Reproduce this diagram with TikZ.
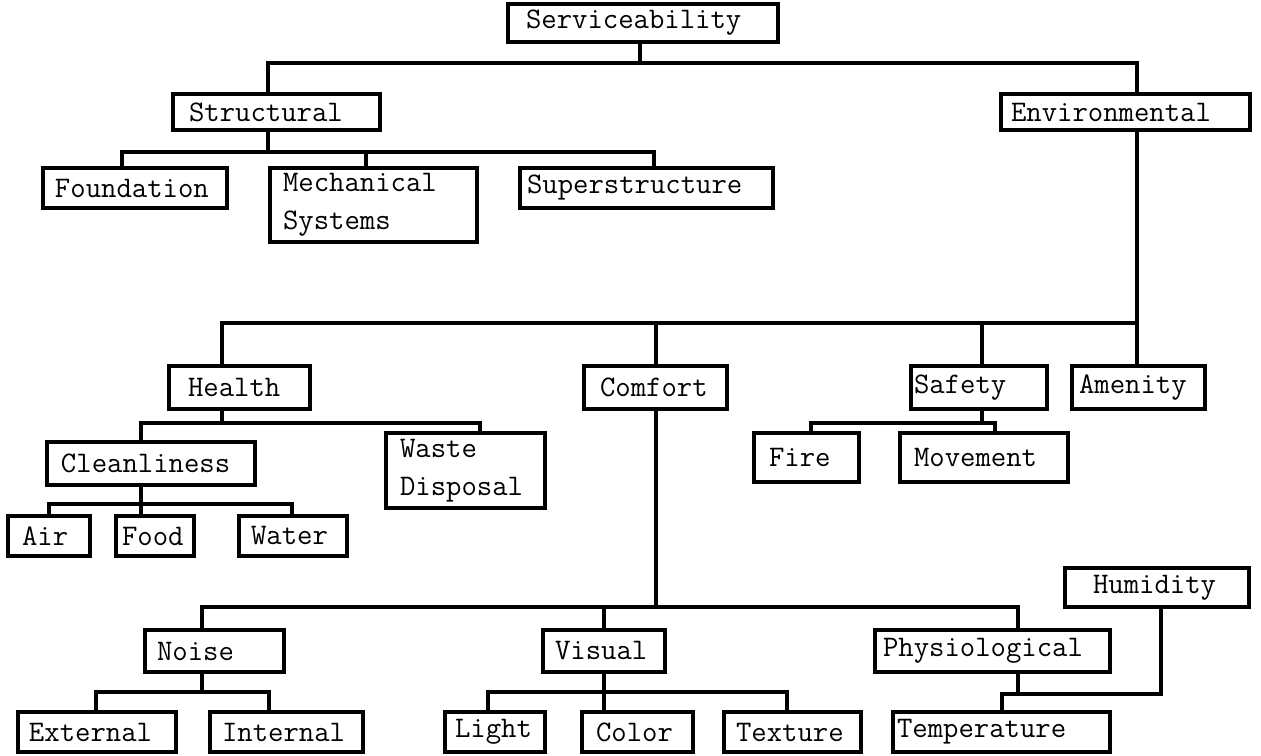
\documentclass[tikz,border=0pt]{standalone}
\usepackage{tikz}

\newcommand{\boxfont}{\fontsize{17}{21.5}\selectfont\ttfamily}

\tikzset{
  tbox/.style={draw, line width=1.8pt, font=\boxfont, align=left, inner ysep=0pt},
  % width, left pad, height (in px of the original)
  sz/.code n args={3}{%
    \pgfmathsetmacro\bxw{#1*0.02}%
    \pgfmathsetmacro\bxt{(#1-2*#2)*0.02}%
    \pgfmathsetmacro\bxp{#2*0.02}%
    \pgfmathsetmacro\bxh{#3*0.02}%
    \edef\bxset{\noexpand\tikzset{minimum width=\bxw cm, text width=\bxt cm,
      inner xsep=\bxp cm, minimum height=\bxh cm}}\bxset},
  link/.style={line width=2pt}
}

\begin{document}
\begin{tikzpicture}[x=0.02cm,y=-0.02cm]
  \useasboundingbox (0,0) rectangle (1261,756);

  % boxes
  \node[tbox,sz={270}{18}{38}] (serv) at (643,23) {Serviceability};
  \node[tbox,sz={207}{16}{36}] (struct) at (276.5,112) {Structural};
  \node[tbox,sz={249}{10}{36}] (env) at (1125.5,112) {Environmental};
  \node[tbox,sz={184}{12}{40}] (found) at (135,188) {Foundation};
  \node[tbox,sz={207}{13}{74}] (mech) at (373.5,205) {Mechanical\\Systems};
  \node[tbox,sz={253}{7}{40}] (super) at (646.5,188) {Superstructure};
  \node[tbox,sz={141}{19}{43}] (health) at (239.5,387.5) {Health};
  \node[tbox,sz={143}{16}{43}] (comfort) at (655.5,387.5) {Comfort};
  \node[tbox,sz={136}{3}{43}] (safety) at (979,387.5) {Safety};
  \node[tbox,sz={133}{7}{43}] (amen) at (1138.5,387.5) {Amenity};
  \node[tbox,sz={208}{14}{43}] (clean) at (151,463.5) {Cleanliness};
  \node[tbox,sz={159}{14}{75}] (waste) at (465.5,470.5) {Waste\\Disposal};
  \node[tbox,sz={105}{15}{49}] (fire) at (806.5,457.5) {Fire};
  \node[tbox,sz={168}{14}{49}] (move) at (984,457.5) {Movement};
  \node[tbox,sz={82}{14}{40}] (air) at (49,536) {Air};
  \node[tbox,sz={78}{6}{40}] (food) at (155,536) {Food};
  \node[tbox,sz={108}{12}{40}] (water) at (293,536) {Water};
  \node[tbox,sz={184}{28}{39}] (humid) at (1157,587.5) {Humidity};
  \node[tbox,sz={139}{12}{42}] (noise) at (214.5,651) {Noise};
  \node[tbox,sz={122}{12}{42}] (visual) at (604,651) {Visual};
  \node[tbox,sz={235}{8}{42}] (phys) at (992.5,651) {Physiological};
  \node[tbox,sz={158}{11}{40}] (ext) at (97,732) {External};
  \node[tbox,sz={153}{12}{40}] (int) at (286.5,732) {Internal};
  \node[tbox,sz={100}{10}{40}] (light) at (495,732) {Light};
  \node[tbox,sz={111}{14}{40}] (color) at (637.5,732) {Color};
  \node[tbox,sz={137}{12}{40}] (texture) at (792.5,732) {Texture};
  \node[tbox,sz={217}{4}{40}] (temp) at (1001.5,732) {Temperature};

  % junctions on the buses
  \coordinate (a0) at (640,63);
  \coordinate (a1) at (268,63);
  \coordinate (a2) at (1137,63);
  \coordinate (b0) at (268,152);
  \coordinate (b1) at (122,152);
  \coordinate (b2) at (366,152);
  \coordinate (b3) at (654,152);
  \coordinate (c0) at (1137,323);
  \coordinate (c1) at (222,323);
  \coordinate (c2) at (656,323);
  \coordinate (c3) at (982,323);
  \coordinate (d0) at (222,423);
  \coordinate (d1) at (141,423);
  \coordinate (d2) at (480,423);
  \coordinate (e0) at (982,423);
  \coordinate (e1) at (811,423);
  \coordinate (e2) at (995,423);
  \coordinate (f0) at (141,504);
  \coordinate (f1) at (49,504);
  \coordinate (f2) at (292,504);
  \coordinate (g0) at (656,607);
  \coordinate (g1) at (202,607);
  \coordinate (g2) at (604,607);
  \coordinate (g3) at (1018,607);
  \coordinate (h0) at (202,692);
  \coordinate (h1) at (96,692);
  \coordinate (h2) at (269,692);
  \coordinate (i0) at (604,692);
  \coordinate (i1) at (488,692);
  \coordinate (i2) at (787,692);
  \coordinate (k0) at (1018,694);
  \coordinate (k1) at (1002,694);
  \coordinate (k2) at (1161,694);

  % connectors
  \draw[link] (serv.south -| a0) -- (a0);
  \draw[link] (struct.north -| a1) -- (a1) -- (a2) -- (env.north -| a2);
  \draw[link] (struct.south -| b0) -- (b0);
  \draw[link] (found.north -| b1) -- (b1) -- (b3) -- (super.north -| b3);
  \draw[link] (mech.north -| b2) -- (b2);
  \draw[link] (env.south -| c0) -- (c0);
  \draw[link] (health.north -| c1) -- (c1) -- (c0) -- (amen.north -| c0);
  \draw[link] (comfort.north -| c2) -- (c2);
  \draw[link] (safety.north -| c3) -- (c3);
  \draw[link] (health.south -| d0) -- (d0);
  \draw[link] (clean.north -| d1) -- (d1) -- (d2) -- (waste.north -| d2);
  \draw[link] (safety.south -| e0) -- (e0);
  \draw[link] (fire.north -| e1) -- (e1) -- (e2) -- (move.north -| e2);
  \draw[link] (clean.south -| f0) -- (food.north -| f0);
  \draw[link] (air.north -| f1) -- (f1) -- (f2) -- (water.north -| f2);
  \draw[link] (comfort.south -| g0) -- (g0);
  \draw[link] (noise.north -| g1) -- (g1) -- (g3) -- (phys.north -| g3);
  \draw[link] (visual.north -| g2) -- (g2);
  \draw[link] (noise.south -| h0) -- (h0);
  \draw[link] (ext.north -| h1) -- (h1) -- (h2) -- (int.north -| h2);
  \draw[link] (visual.south -| i0) -- (color.north -| i0);
  \draw[link] (light.north -| i1) -- (i1) -- (i2) -- (texture.north -| i2);
  \draw[link] (phys.south -| k0) -- (k0);
  \draw[link] (temp.north -| k1) -- (k1) -- (k2) -- (humid.south -| k2);
\end{tikzpicture}
\end{document}
